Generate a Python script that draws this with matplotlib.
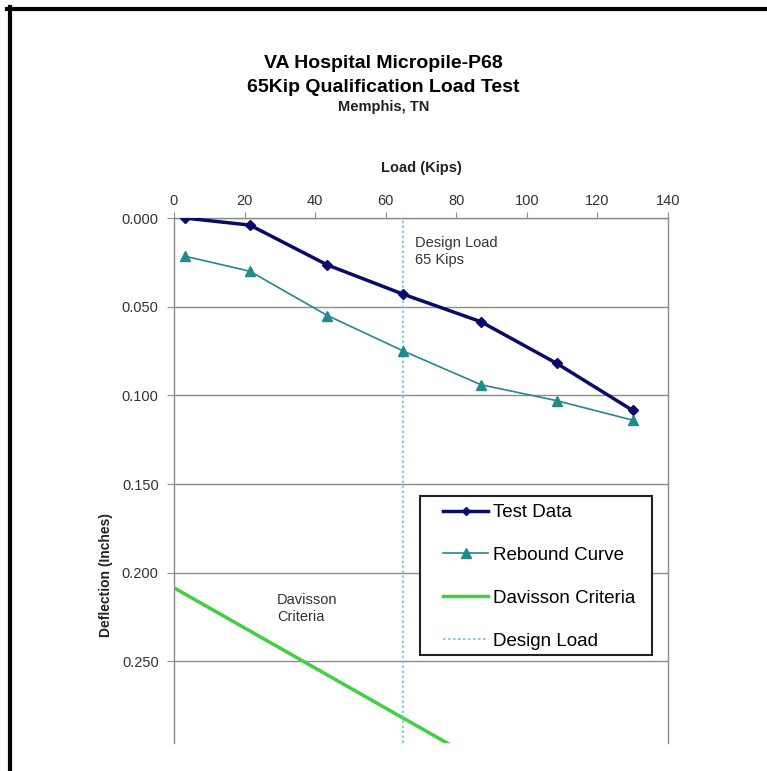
import numpy as np
import matplotlib
matplotlib.use('Agg')
import matplotlib.pyplot as plt
from matplotlib.lines import Line2D
from matplotlib.patches import Rectangle
from matplotlib.ticker import FormatStrFormatter

plt.rcParams['font.family'] = ['Liberation Sans', 'DejaVu Sans']

# Load test readings (kips / inches)
load = [3, 21.5, 43.5, 65, 87, 108.5, 130]
test_defl = [0.000, 0.004, 0.0265, 0.043, 0.0585, 0.082, 0.1085]
rebound_defl = [0.0215, 0.030, 0.055, 0.075, 0.094, 0.103, 0.114]

# Davisson criteria line
davisson_load = [0, 130]
davisson_defl = [0.2085, 0.3555]

design_load = 65

fig = plt.figure(figsize=(7.67, 7.71), dpi=100)
ax = fig.add_axes([174 / 767, 1 - 743 / 771, 494 / 767, 525 / 771])

grey = '#8c8c8c'
ax.plot(load, test_defl, color='#0a0a6b', lw=2.5, marker='D', ms=5.5,
        label='Test Data', zorder=3)
ax.plot(load, rebound_defl, color='#218a8a', lw=1.2, marker='^', ms=7.5,
        label='Rebound Curve', zorder=3)
ax.plot(davisson_load, davisson_defl, color='#3fd13f', lw=2.5,
        label='Davisson Criteria', zorder=2)
ax.axvline(design_load, color='#66ccdd', lw=1.2, ls=(0, (1.5, 1.5)),
           label='Design Load', zorder=2)

ax.set_xlim(0, 140)
ax.set_ylim(0.296, 0)
ax.set_xticks(np.arange(0, 141, 20))
ax.set_yticks(np.arange(0, 0.251, 0.05))
ax.yaxis.set_major_formatter(FormatStrFormatter('%.3f'))
ax.xaxis.tick_top()
ax.yaxis.grid(True, color=grey, lw=1)
ax.set_axisbelow(True)

for side in ['top', 'left', 'right']:
    ax.spines[side].set_color(grey)
    ax.spines[side].set_linewidth(1)
ax.spines['bottom'].set_visible(False)
ax.tick_params(axis='x', direction='out', length=4, color=grey,
               labelsize=10.5, labelcolor='#333333', pad=3)
ax.tick_params(axis='y', direction='out', length=5, color=grey,
               labelsize=10.5, labelcolor='#333333', pad=6)

ax.text(0.488, 0.966, 'Design Load\n65 Kips', transform=ax.transAxes,
        fontsize=10.5, color='#333333', va='top', ha='left', linespacing=1.25)
ax.text(0.208, 0.285, 'Davisson\nCriteria', transform=ax.transAxes,
        fontsize=10.5, color='#333333', va='top', ha='left', linespacing=1.2)

# Titles
fig.text(383 / 767, 1 - 64 / 771, 'VA Hospital Micropile-P68', ha='center',
         va='center', fontsize=14, fontweight='bold')
fig.text(383 / 767, 1 - 87 / 771, '65Kip Qualification Load Test', ha='center',
         va='center', fontsize=14, fontweight='bold')
fig.text(384 / 767, 1 - 107 / 771, 'Memphis, TN', ha='center', va='center',
         fontsize=10.5, fontweight='bold', color='#222222')
fig.text(421 / 767, 1 - 168 / 771, 'Load (Kips)', ha='center', va='center',
         fontsize=10.5, fontweight='bold', color='#222222')
fig.text(106 / 767, 1 - 575 / 771, 'Deflection (Inches)', ha='center',
         va='center', rotation=90, fontsize=10, fontweight='bold',
         color='#222222')

# Legend box
ax.add_patch(Rectangle((420 / 767, 1 - 655 / 771), 232 / 767, 159 / 771,
                       transform=fig.transFigure, facecolor='white',
                       edgecolor='#222222', lw=1.5, zorder=4, clip_on=False))
leg = ax.legend(loc='upper left', bbox_to_anchor=(443 / 767, 1 - 504 / 771),
                bbox_transform=fig.transFigure, frameon=False, fontsize=13.5,
                handlelength=2.4, handletextpad=0.27, labelspacing=1.37,
                borderpad=0, borderaxespad=0)
leg.set_zorder(5)
for h in leg.legend_handles:
    if h.get_marker() == 'D':
        h.set_markersize(4.5)
    elif h.get_marker() == '^':
        h.set_markersize(6.5)

# Outer frame (top and left edges only visible)
fig.add_artist(Line2D([7 / 767, 1], [1 - 9 / 771, 1 - 9 / 771],
                      transform=fig.transFigure, color='black', lw=3))
fig.add_artist(Line2D([9.5 / 767, 9.5 / 767], [0, 1 - 7 / 771],
                      transform=fig.transFigure, color='black', lw=3))

fig.savefig('out.png', dpi=100, facecolor='white')
